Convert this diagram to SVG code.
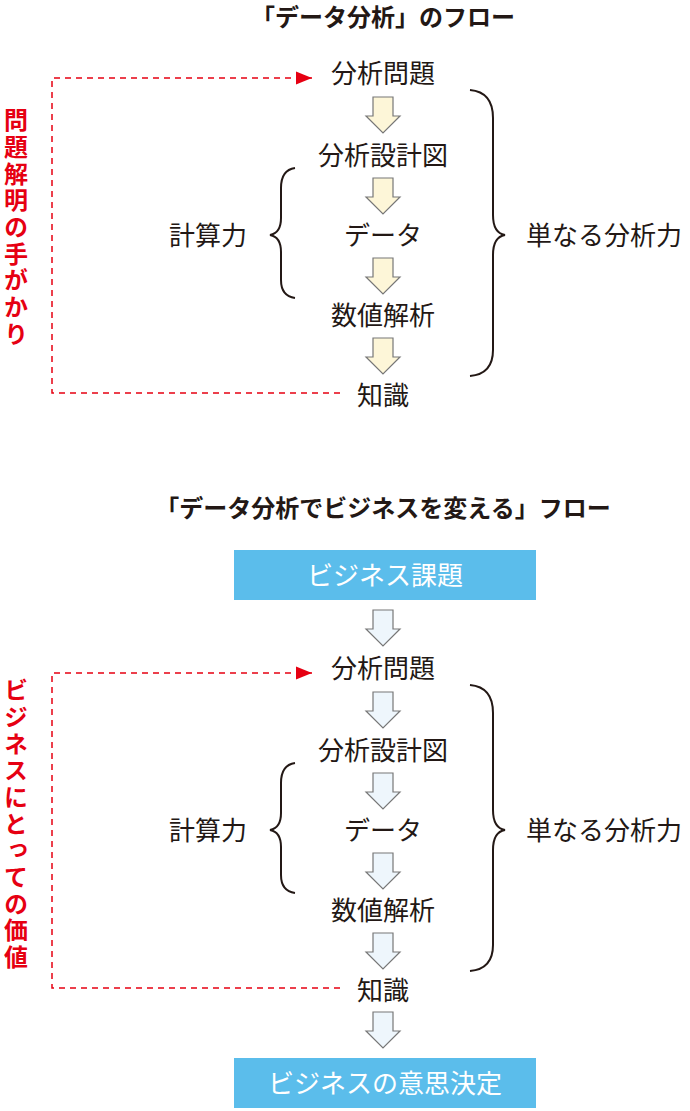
<svg xmlns="http://www.w3.org/2000/svg" width="690" height="1111" viewBox="0 0 690 1111">
<style>
text{font-family:"Noto Sans CJK JP",sans-serif;fill:#231815}
.n{font-size:26px;text-anchor:middle}
.t{font-size:24px;font-weight:bold;text-anchor:middle}
.r{font-size:24px;font-weight:bold;fill:#e60012;writing-mode:vertical-rl;text-orientation:upright;letter-spacing:2.7px}
.w{font-size:26px;fill:#fff;text-anchor:middle}
.br{fill:none;stroke:#231815;stroke-width:2}
.d{fill:none;stroke:#e60012;stroke-width:1.5;stroke-dasharray:6,5}
.a1{fill:#fdf6d8;stroke:#777;stroke-width:1.2}
.a2{fill:#eef6fc;stroke:#777;stroke-width:1.2}
</style>
<defs>
<path id="ar" d="M-10,0H10V19H17L0,36L-17,19H-10Z"/>
<marker id="m" viewBox="0 0 10 10" refX="10" refY="5" markerWidth="16" markerHeight="16" markerUnits="userSpaceOnUse" orient="auto"><path d="M0,1L10,5L0,9Z" fill="#e60012"/></marker>
</defs>
<text class="t" x="383" y="26">「データ分析」のフロー</text>
<g id="top">
<g id="n1"><text class="n" x="383" y="83">分析問題</text></g>
<g id="n2"><text class="n" x="383" y="165">分析設計図</text></g>
<g id="n3"><text class="n" x="383" y="245">データ</text></g>
<g id="n4"><text class="n" x="383" y="325">数値解析</text></g>
<g id="n5"><text class="n" x="383" y="405">知識</text></g>
<g id="l1"><text class="n" x="208" y="245">計算力</text></g>
<g id="l2"><text class="n" x="604" y="245">単なる分析力</text></g>
<g id="v1"><text class="r" x="16" y="108">問題解明の手がかり</text></g>
</g>
<g id="connectors-top">
<use href="#ar" x="383" y="97" class="a1"/><use href="#ar" x="383" y="178" class="a1"/><use href="#ar" x="383" y="258" class="a1"/><use href="#ar" x="383" y="338" class="a1"/>
<path class="br" d="M470,90Q493,92 493,118V215Q493,233 505,235Q493,237 493,255V350Q493,374 470,376"/>
<path class="br" d="M295,168Q281,170 281,188V218Q281,233 270,235Q281,237 281,252V280Q281,296 295,298"/>
<path class="d" d="M340,393H52V78H312" marker-end="url(#m)"/>
</g>
<text class="t" x="383" y="517">「データ分析でビジネスを変える」フロー</text>
<g id="bottom">
<g id="b1"><rect x="234" y="550" width="302" height="50" fill="#5bbdeb"/><text class="w" x="385" y="585">ビジネス課題</text></g>
<g id="m1"><text class="n" x="383" y="678">分析問題</text></g>
<g id="m2"><text class="n" x="383" y="760">分析設計図</text></g>
<g id="m3"><text class="n" x="383" y="840">データ</text></g>
<g id="m4"><text class="n" x="383" y="920">数値解析</text></g>
<g id="m5"><text class="n" x="383" y="1000">知識</text></g>
<g id="b2"><rect x="234" y="1058" width="302" height="50" fill="#5bbdeb"/><text class="w" x="385" y="1093">ビジネスの意思決定</text></g>
<g id="k1"><text class="n" x="208" y="840">計算力</text></g>
<g id="k2"><text class="n" x="604" y="840">単なる分析力</text></g>
<g id="v2"><text class="r" x="16" y="678">ビジネスにとっての価値</text></g>
</g>
<g id="connectors-bottom">
<use href="#ar" x="383" y="610" class="a2"/><use href="#ar" x="383" y="692" class="a2"/><use href="#ar" x="383" y="773" class="a2"/><use href="#ar" x="383" y="853" class="a2"/><use href="#ar" x="383" y="933" class="a2"/><use href="#ar" x="383" y="1012" class="a2"/>
<path class="br" d="M470,685Q493,687 493,713V810Q493,828 505,830Q493,832 493,850V945Q493,969 470,971"/>
<path class="br" d="M295,763Q281,765 281,783V813Q281,828 270,830Q281,832 281,847V875Q281,891 295,893"/>
<path class="d" d="M340,988H52V673H312" marker-end="url(#m)"/>
</g>
</svg>
